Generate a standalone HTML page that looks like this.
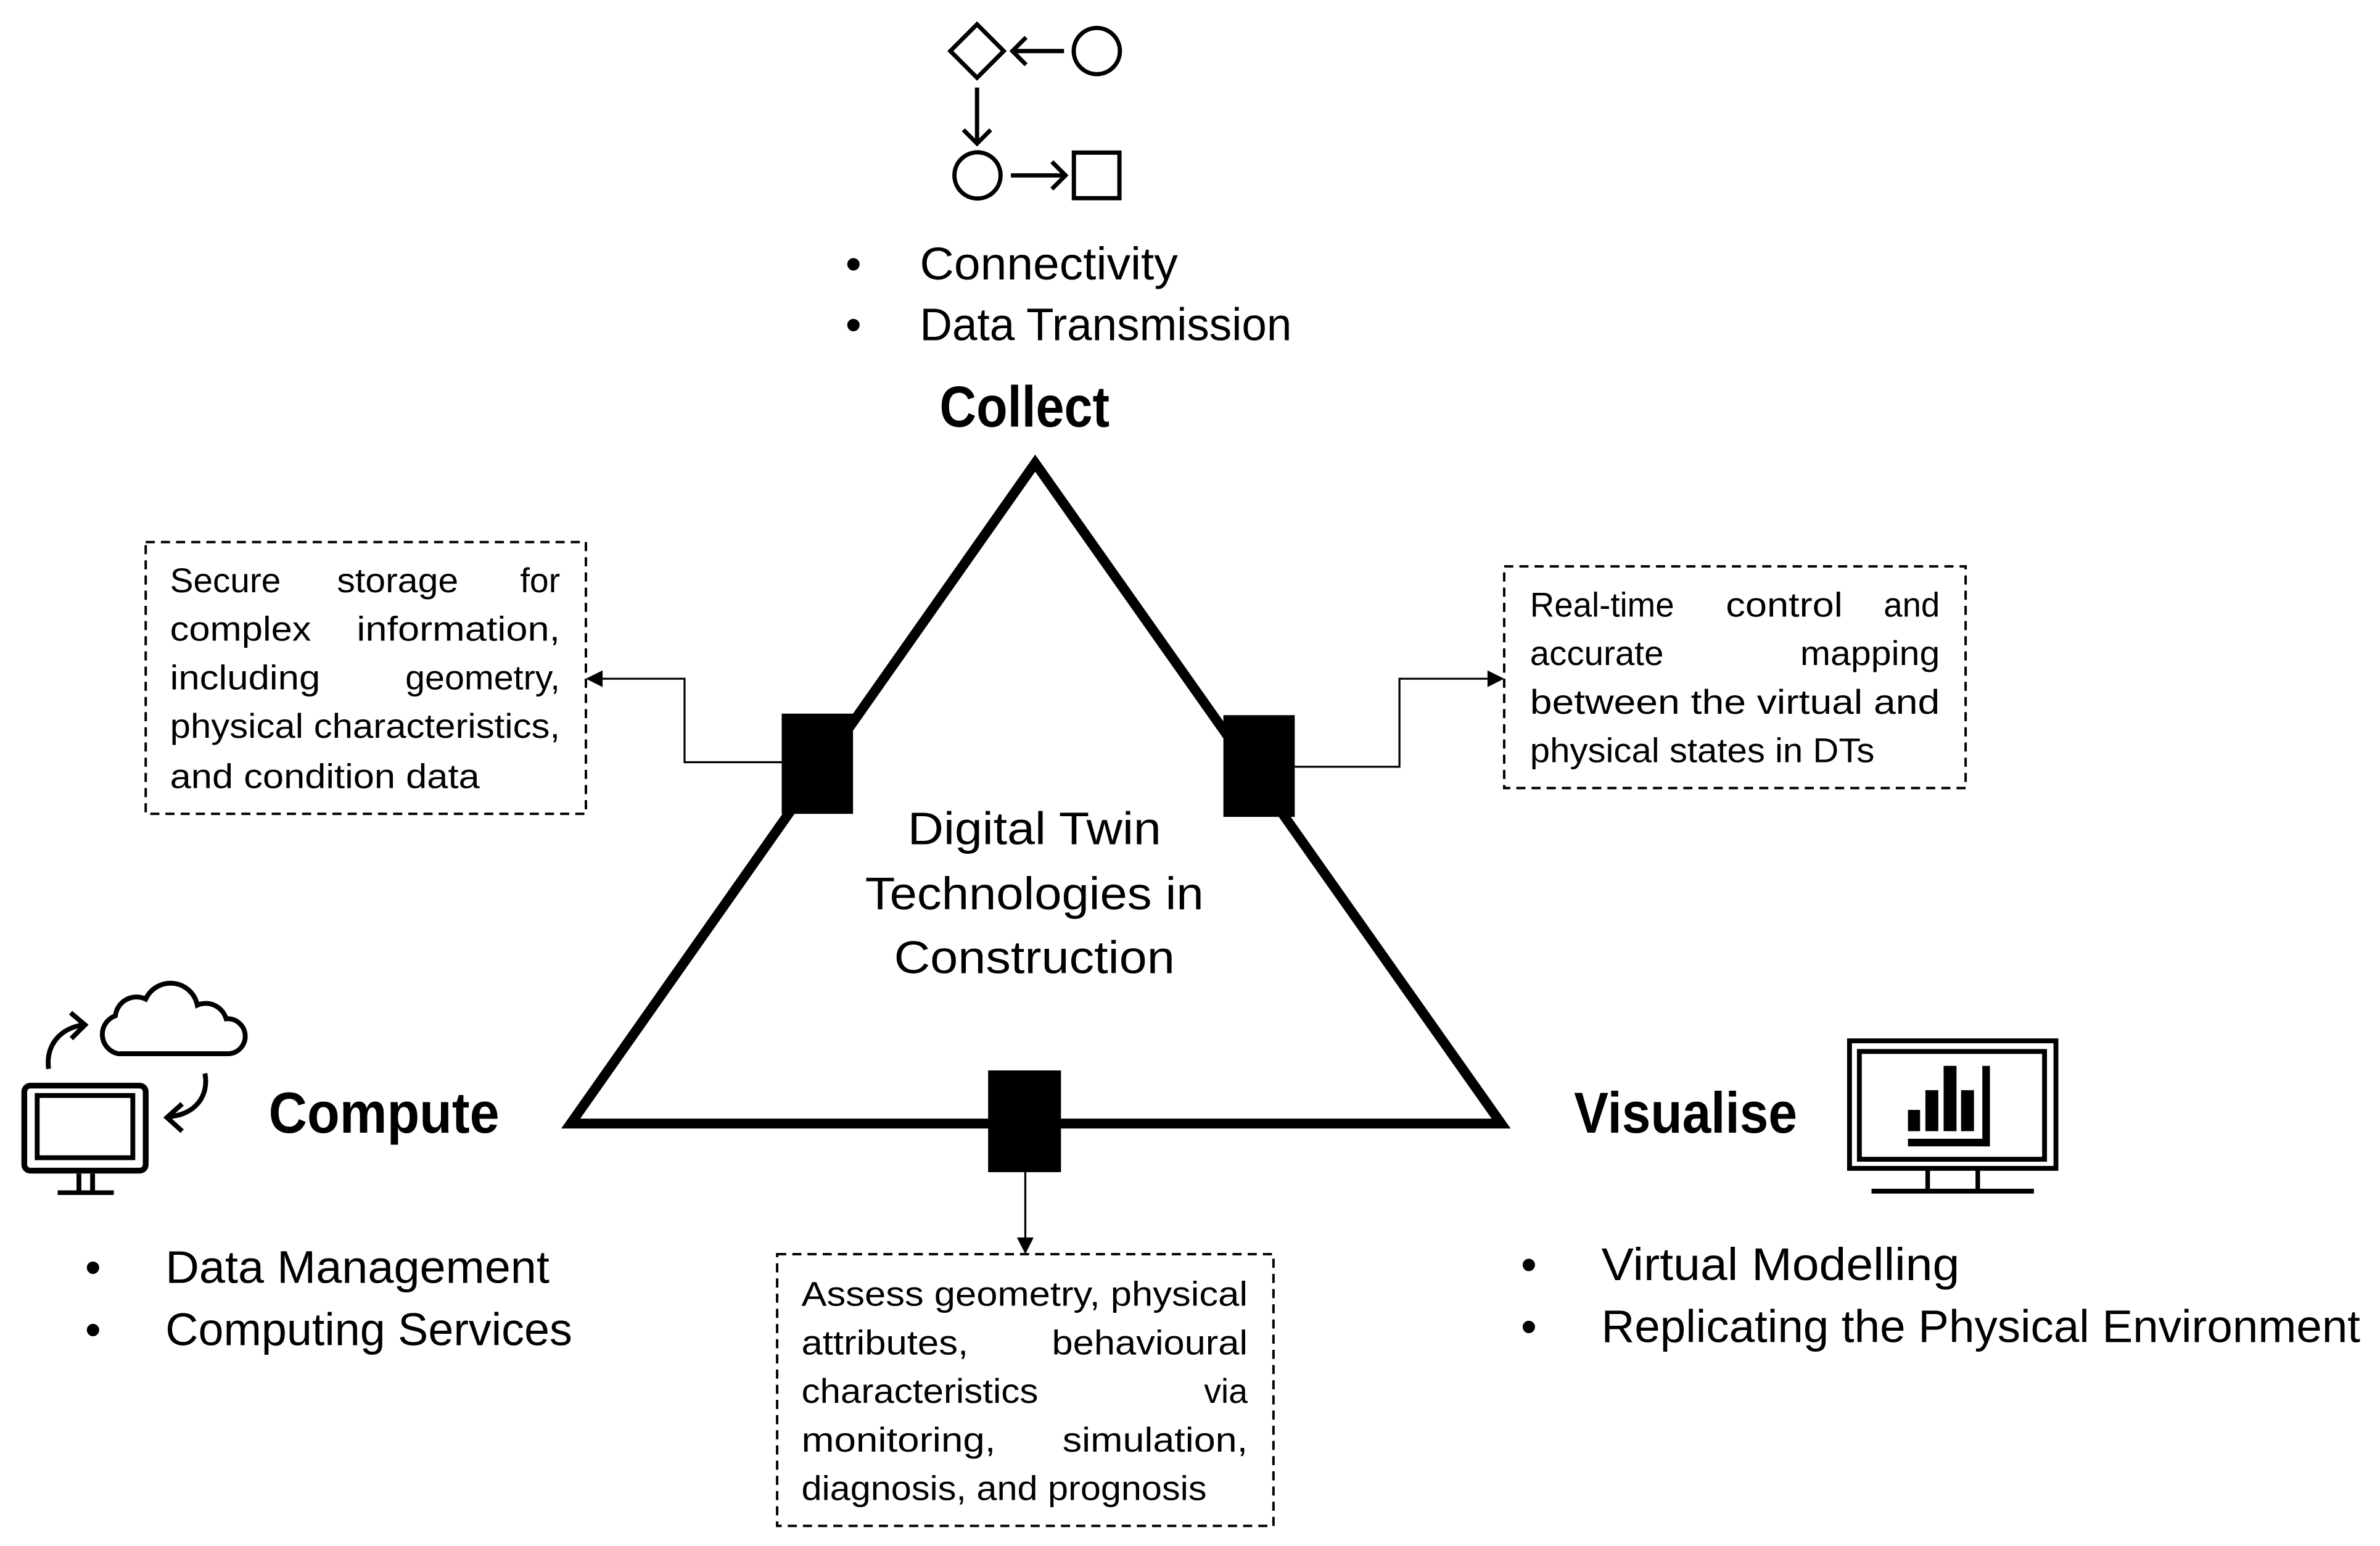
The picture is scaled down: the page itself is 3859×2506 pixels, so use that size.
<!DOCTYPE html>
<html><head><meta charset="utf-8"><style>html,body{margin:0;padding:0;background:#fff}svg{display:block}</style></head><body>
<svg width="3859" height="2506" viewBox="0 0 1568 1018.2" xmlns="http://www.w3.org/2000/svg" font-family="'Liberation Sans', sans-serif" fill="#000">
<rect x="0" y="0" width="1568" height="1019" fill="#fff"/>
<!-- top icon -->
<g fill="none" stroke="#000" stroke-width="2.8">
<polygon points="643.7,16 661.3,33.6 643.7,51.2 626.1,33.6"/>
<circle cx="722.6" cy="33.6" r="15.2"/>
<line x1="701" y1="33.6" x2="668" y2="33.6"/>
<polyline points="676,24.6 667,33.6 676,42.6"/>
<line x1="643.7" y1="57.6" x2="643.7" y2="94"/>
<polyline points="634.7,85.5 643.7,94.5 652.7,85.5"/>
<circle cx="644" cy="115.5" r="15.2"/>
<line x1="666" y1="115.5" x2="702" y2="115.5"/>
<polyline points="693,106.5 702,115.5 693,124.5"/>
<rect x="707.5" y="100.5" width="30" height="30"/>
</g>
<text x="557" y="184" font-size="30">•</text>
<text x="557" y="224" font-size="30">•</text>
<text x="606" y="184" font-size="30" textLength="170" lengthAdjust="spacingAndGlyphs">Connectivity</text>
<text x="606" y="224" font-size="30" textLength="245" lengthAdjust="spacingAndGlyphs">Data Transmission</text>
<text x="619" y="281" font-size="38" font-weight="bold" textLength="112" lengthAdjust="spacingAndGlyphs">Collect</text>
<!-- triangle -->
<polygon points="682,305 376,740 989,740" fill="none" stroke="#000" stroke-width="6.5" stroke-linejoin="miter"/>
<rect x="515" y="470" width="47" height="66"/>
<rect x="806" y="471" width="47" height="67"/>
<rect x="651" y="705" width="48" height="67"/>
<!-- connectors -->
<g fill="none" stroke="#000" stroke-width="1.3">
<polyline points="515,502 451,502 451,447 396,447"/>
<polyline points="853,505 922,505 922,447 981,447"/>
<line x1="675.5" y1="772" x2="675.5" y2="816"/>
</g>
<polygon points="386,447 397,441.5 397,452.5"/>
<polygon points="991,447 980,441.5 980,452.5"/>
<polygon points="675.5,826 670,815 681,815"/>
<!-- dashed boxes -->
<g fill="none" stroke="#000" stroke-width="1.6" stroke-dasharray="6,4">
<rect x="96" y="357" width="290" height="179"/>
<rect x="991" y="373" width="304" height="146"/>
<rect x="512" y="826" width="327" height="179"/>
</g>
<g font-size="22.5" font-family="'Liberation Sans', sans-serif">
<text x="112" y="390" textLength="73" lengthAdjust="spacingAndGlyphs">Secure</text>
<text x="222" y="390" textLength="80" lengthAdjust="spacingAndGlyphs">storage</text>
<text x="369" y="390" text-anchor="end">for</text>
<text x="112" y="422" textLength="93" lengthAdjust="spacingAndGlyphs">complex</text>
<text x="235" y="422" textLength="134" lengthAdjust="spacingAndGlyphs">information,</text>
<text x="112" y="454" textLength="99" lengthAdjust="spacingAndGlyphs">including</text>
<text x="267" y="454" textLength="102" lengthAdjust="spacingAndGlyphs">geometry,</text>
<text x="112" y="486" textLength="257" lengthAdjust="spacingAndGlyphs">physical characteristics,</text>
<text x="112" y="519" textLength="204" lengthAdjust="spacingAndGlyphs">and condition data</text>
<text x="1008" y="406" textLength="95" lengthAdjust="spacingAndGlyphs">Real-time</text>
<text x="1137" y="406" textLength="77" lengthAdjust="spacingAndGlyphs">control</text>
<text x="1241" y="406" textLength="37" lengthAdjust="spacingAndGlyphs">and</text>
<text x="1008" y="438" textLength="88" lengthAdjust="spacingAndGlyphs">accurate</text>
<text x="1186" y="438" textLength="92" lengthAdjust="spacingAndGlyphs">mapping</text>
<text x="1008" y="470" textLength="270" lengthAdjust="spacingAndGlyphs">between the virtual and</text>
<text x="1008" y="502" textLength="227" lengthAdjust="spacingAndGlyphs">physical states in DTs</text>
<text x="528" y="860" textLength="294" lengthAdjust="spacingAndGlyphs">Assess geometry, physical</text>
<text x="528" y="892" textLength="110" lengthAdjust="spacingAndGlyphs">attributes,</text>
<text x="693" y="892" textLength="129" lengthAdjust="spacingAndGlyphs">behavioural</text>
<text x="528" y="924" textLength="156" lengthAdjust="spacingAndGlyphs">characteristics</text>
<text x="822" y="924" text-anchor="end">via</text>
<text x="528" y="956" textLength="128" lengthAdjust="spacingAndGlyphs">monitoring,</text>
<text x="700" y="956" textLength="122" lengthAdjust="spacingAndGlyphs">simulation,</text>
<text x="528" y="988" textLength="267" lengthAdjust="spacingAndGlyphs">diagnosis, and prognosis</text>
</g>
<g font-size="30">
<text x="598" y="556" textLength="167" lengthAdjust="spacingAndGlyphs">Digital Twin</text>
<text x="570" y="599" textLength="223" lengthAdjust="spacingAndGlyphs">Technologies in</text>
<text x="589" y="641" textLength="185" lengthAdjust="spacingAndGlyphs">Construction</text>
</g>
<text x="177" y="746" font-size="38" font-weight="bold" textLength="152" lengthAdjust="spacingAndGlyphs">Compute</text>
<text x="1037" y="746" font-size="38" font-weight="bold" textLength="147" lengthAdjust="spacingAndGlyphs">Visualise</text>
<g fill="none" stroke="#000">
<rect x="16" y="715" width="80" height="56" rx="4" stroke-width="3.8"/>
<rect x="24.5" y="721.5" width="63" height="41" stroke-width="3.2"/>
<line x1="52" y1="773" x2="52" y2="785" stroke-width="3.2"/>
<line x1="61" y1="773" x2="61" y2="785" stroke-width="3.2"/>
<line x1="38" y1="785.5" x2="75" y2="785.5" stroke-width="3"/>
<path d="M78,694 L151,694 A11,11 0 0 0 149,671 A14,14 0 0 0 130,662 A18,18 0 0 0 96,658 A14,14 0 0 0 76,669 A13,13 0 0 0 78,694 Z" stroke-width="3.2"/>
<path d="M32,704 C30,688 40,677 55,675" stroke-width="3.2"/>
<polyline points="46.5,667 56,675 47,684" stroke-width="3.2"/>
<path d="M135,707 C138,722 128,735 110,735.5" stroke-width="3.2"/>
<polyline points="120,727 110,736 120,745" stroke-width="3.2"/>
</g>
<g fill="none" stroke="#000">
<rect x="1218.5" y="685.5" width="136" height="84" stroke-width="3.2"/>
<rect x="1225" y="692.5" width="122" height="71" stroke-width="3.2"/>
<line x1="1270" y1="771" x2="1270" y2="783" stroke-width="3"/>
<line x1="1303" y1="771" x2="1303" y2="783" stroke-width="3"/>
<line x1="1233" y1="784.5" x2="1340" y2="784.5" stroke-width="3.2"/>
</g>
<rect x="1257" y="731" width="8" height="14"/>
<rect x="1268.5" y="718" width="8.5" height="27"/>
<rect x="1280.5" y="702" width="8.5" height="43"/>
<rect x="1292" y="718" width="8.5" height="27"/>
<rect x="1306" y="702" width="5" height="53"/>
<rect x="1257" y="750" width="54" height="5"/>
<g font-size="30">
<text x="56" y="845">•</text><text x="56" y="886">•</text>
<text x="109" y="845" textLength="253" lengthAdjust="spacingAndGlyphs">Data Management</text>
<text x="109" y="886" textLength="268" lengthAdjust="spacingAndGlyphs">Computing Services</text>
<text x="1002" y="843">•</text><text x="1002" y="884">•</text>
<text x="1055" y="843" textLength="236" lengthAdjust="spacingAndGlyphs">Virtual Modelling</text>
<text x="1055" y="884" textLength="500" lengthAdjust="spacingAndGlyphs">Replicating the Physical Environment</text>
</g>
</svg>
</body></html>
